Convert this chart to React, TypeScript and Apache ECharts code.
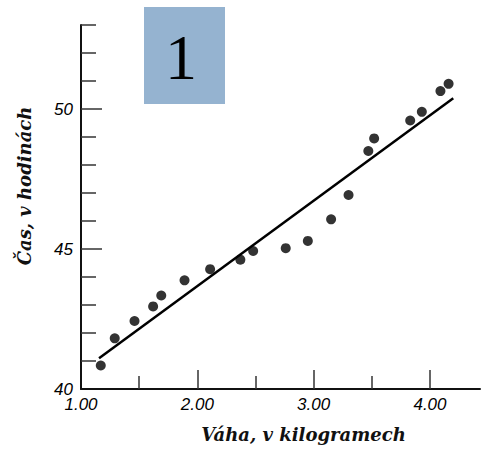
import React, { useEffect, useRef } from "react";
import * as echarts from "echarts";

const weightKg = [1.17, 1.29, 1.46, 1.62, 1.69, 1.89, 2.11, 2.37, 2.48, 2.76, 2.95, 3.15, 3.3, 3.47, 3.52, 3.83, 3.93, 4.09, 4.16];
const timeHours = [40.84, 41.81, 42.43, 42.95, 43.34, 43.88, 44.28, 44.62, 44.93, 45.03, 45.29, 46.06, 46.93, 48.5, 48.95, 49.59, 49.9, 50.64, 50.9];
const fitX = [1.155, 4.2];
const fitY = [41.1, 50.38];
const xLabelValues = [1, 2, 3, 4];
const xMajorTicks = [2, 3, 4];
const xMinorTicks = [1.5, 2.5, 3.5];
const yLabelValues = [40, 45, 50];
const yMajorTicks = [45, 50];
const yMinorTicks = [41, 42, 43, 44, 46, 47, 48, 49, 51, 52, 53];
const xName = "Váha, v kilogramech";
const yName = "Čas, v hodinách";
const badge = "1";

export default function App() {
  const ref = useRef<HTMLDivElement>(null);
  useEffect(() => {
    if (!ref.current) return;
    const chart = echarts.init(ref.current, null, { renderer: "svg" });
    const labelStyle = {
      fontFamily: "Liberation Sans",
      fontStyle: "italic" as const,
      fontSize: 17,
      color: "#000",
    };
    const nameStyle = {
      fontFamily: "DejaVu Serif",
      fontStyle: "italic" as const,
      fontWeight: "bold" as const,
      fontSize: 18,
      color: "#111",
    };
    chart.setOption({
      animation: false,
      backgroundColor: "#ffffff",
      grid: { left: 81, right: 1, top: 25, bottom: 60, containLabel: false, outerBoundsMode: "none" },
      xAxis: [
        {
          type: "value",
          position: "bottom",
          min: 1,
          max: 4.43,
          interval: 0.5,
          name: xName,
          nameLocation: "middle",
          nameGap: 36,
          nameTextStyle: { ...nameStyle, padding: [0, 0, 0, 46] },
          axisLine: { show: true, lineStyle: { color: "#111", width: 2 } },
          axisTick: { show: true, inside: true, length: 13, customValues: xMinorTicks, lineStyle: { color: "#333", width: 1.5 } },
          axisLabel: { show: true, customValues: xLabelValues, margin: 7, formatter: (v: number) => v.toFixed(2), ...labelStyle },
          splitLine: { show: false },
        },
        {
          type: "value",
          position: "bottom",
          min: 1,
          max: 4.43,
          interval: 0.5,
          axisLine: { show: false },
          axisTick: { show: true, inside: true, length: 19, customValues: xMajorTicks, lineStyle: { color: "#333", width: 1.5 } },
          axisLabel: { show: false },
          splitLine: { show: false },
        },
      ],
      yAxis: [
        {
          type: "value",
          position: "left",
          min: 40,
          max: 53,
          interval: 1,
          name: yName,
          nameLocation: "middle",
          nameRotate: 90,
          nameGap: 48,
          nameTextStyle: { ...nameStyle, padding: [0, 0, 0, 42] },
          axisLine: { show: true, lineStyle: { color: "#111", width: 2 } },
          axisTick: { show: true, inside: true, length: 15, customValues: yMinorTicks, lineStyle: { color: "#333", width: 1.5 } },
          axisLabel: { show: true, customValues: yLabelValues, margin: 8, formatter: (v: number) => String(v), ...labelStyle },
          splitLine: { show: false },
        },
        {
          type: "value",
          position: "left",
          min: 40,
          max: 53,
          interval: 1,
          axisLine: { show: false },
          axisTick: { show: true, inside: true, length: 21, customValues: yMajorTicks, lineStyle: { color: "#333", width: 1.5 } },
          axisLabel: { show: false },
          splitLine: { show: false },
        },
      ],
      series: [
        {
          type: "line",
          xAxisIndex: 0,
          yAxisIndex: 0,
          data: fitX.map((x, i) => [x, fitY[i]]),
          showSymbol: false,
          symbol: "none",
          lineStyle: { color: "#000", width: 2.5 },
          z: 2,
        },
        {
          type: "scatter",
          xAxisIndex: 0,
          yAxisIndex: 0,
          data: weightKg.map((x, i) => [x, timeHours[i]]),
          symbol: "circle",
          symbolSize: 10,
          itemStyle: { color: "#000" },
          z: 3,
        },
      ],
      graphic: [
        {
          type: "rect",
          shape: { x: 144, y: 7, width: 81, height: 97 },
          style: { fill: "#95B3D0" },
          z: 10,
        },
        {
          type: "text",
          x: 181,
          y: 57,
          style: {
            text: badge,
            fontFamily: "Liberation Serif",
            fontSize: 64,
            fill: "#000",
            align: "center",
            verticalAlign: "middle",
          },
          z: 11,
        },
      ],
    });
    return () => chart.dispose();
  }, []);
  return <div ref={ref} style={{ position: "fixed", left: 0, top: 0, width: 481, height: 449 }} />;
}
